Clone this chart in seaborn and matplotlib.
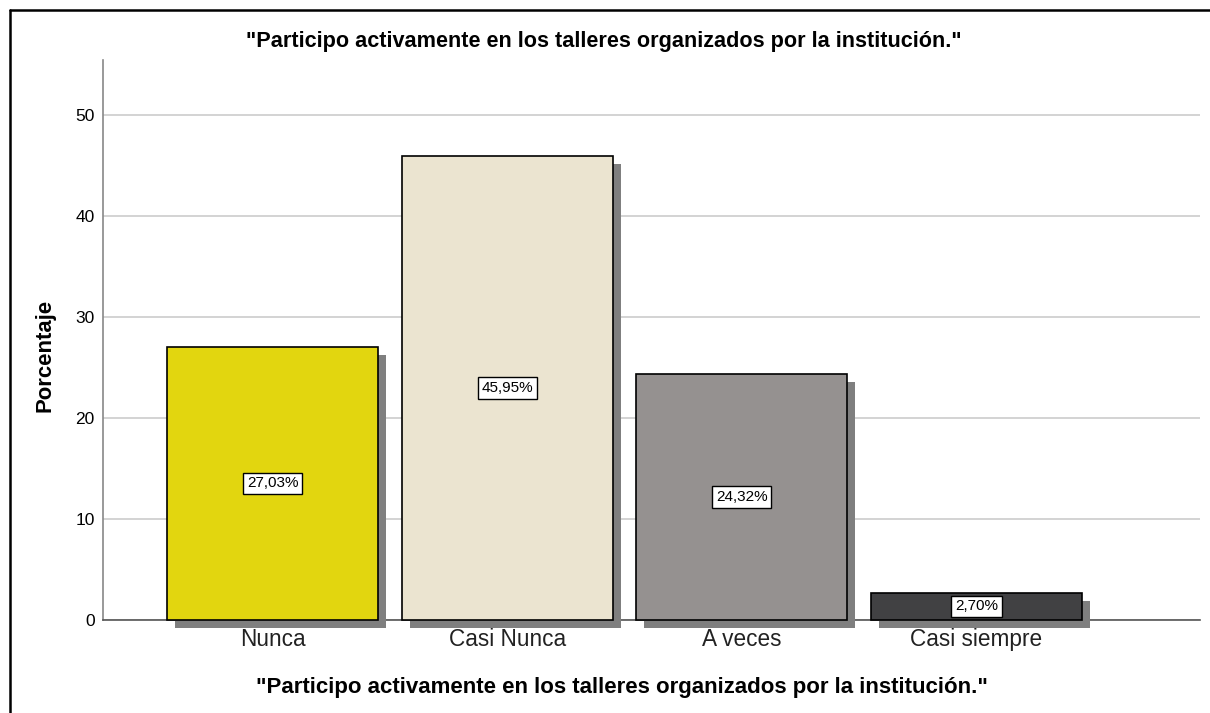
import matplotlib
matplotlib.use("Agg")
import matplotlib.pyplot as plt
import matplotlib.patheffects as pe
from matplotlib.lines import Line2D
import seaborn as sns

# Data
categorias = ["Nunca", "Casi Nunca", "A veces", "Casi siempre"]
porcentajes = [27.03, 45.95, 24.32, 2.70]
etiquetas = ["27,03%", "45,95%", "24,32%", "2,70%"]
colores = ["#e2d60f", "#ebe4d0", "#959190", "#414143"]
titulo = '"Participo activamente en los talleres organizados por la institución."'

sns.set_style("white")
plt.rcParams["font.family"] = ["Liberation Sans", "DejaVu Sans"]
plt.rcParams["text.color"] = "black"

fig = plt.figure(figsize=(12.1, 7.13), dpi=100)
ax = fig.add_axes([103 / 1210, 1 - 620 / 713, (1200 - 103) / 1210, (620 - 60) / 713])

sns.barplot(x=categorias, y=porcentajes, hue=categorias, palette=colores, saturation=1,
            width=0.9, edgecolor="black", linewidth=1.2, legend=False, ax=ax)

# drop shadow behind each bar
for bar in ax.patches:
    bar.set_clip_on(False)
    bar.set_zorder(3)
    bar.set_path_effects([pe.SimplePatchShadow(offset=(5.8, -5.8), shadow_rgbFace="#7f7f7f", alpha=1),
                          pe.Normal()])

# value labels in white boxes
for i, (v, lab) in enumerate(zip(porcentajes, etiquetas)):
    ax.text(i, v / 2, lab, ha="center", va="center", fontsize=11, zorder=5,
            bbox=dict(boxstyle="square,pad=0.25", facecolor="white", edgecolor="black", linewidth=1))

ax.set_ylim(0, 55.4)
ax.set_xlim(-0.723, 3.953)
ax.set_yticks([0, 10, 20, 30, 40, 50])
ax.yaxis.grid(True, color="#d0d0d0", linewidth=1.3)
ax.set_axisbelow(True)
ax.tick_params(axis="y", length=0, pad=6, labelsize=12.5, labelcolor="black")
ax.tick_params(axis="x", length=0, pad=6, labelsize=16.3, labelcolor="#222222")
for s in ["top", "right"]:
    ax.spines[s].set_visible(False)
ax.spines["left"].set_color("#888888")
ax.spines["bottom"].set_color("#555555")
ax.spines["left"].set_linewidth(1.2)
ax.spines["bottom"].set_linewidth(1.2)
ax.set_xlabel("")
ax.set_ylabel("")

fig.text(604 / 1210, 1 - 42 / 713, titulo, ha="center", va="center", fontsize=15.6, fontweight="bold")
fig.text(622 / 1210, 1 - 688 / 713, titulo, ha="center", va="center", fontsize=16, fontweight="bold")
fig.text(45 / 1210, 1 - 355 / 713, "Porcentaje", ha="center", va="center", rotation=90,
         fontsize=15.9, fontweight="bold")

# outer frame (top and left edges visible)
fig.add_artist(Line2D([10 / 1210, 10 / 1210], [0, 1 - 10 / 713], color="black", linewidth=1.8))
fig.add_artist(Line2D([10 / 1210, 1], [1 - 10 / 713, 1 - 10 / 713], color="black", linewidth=1.8))

fig.savefig("out.png", dpi=100)
